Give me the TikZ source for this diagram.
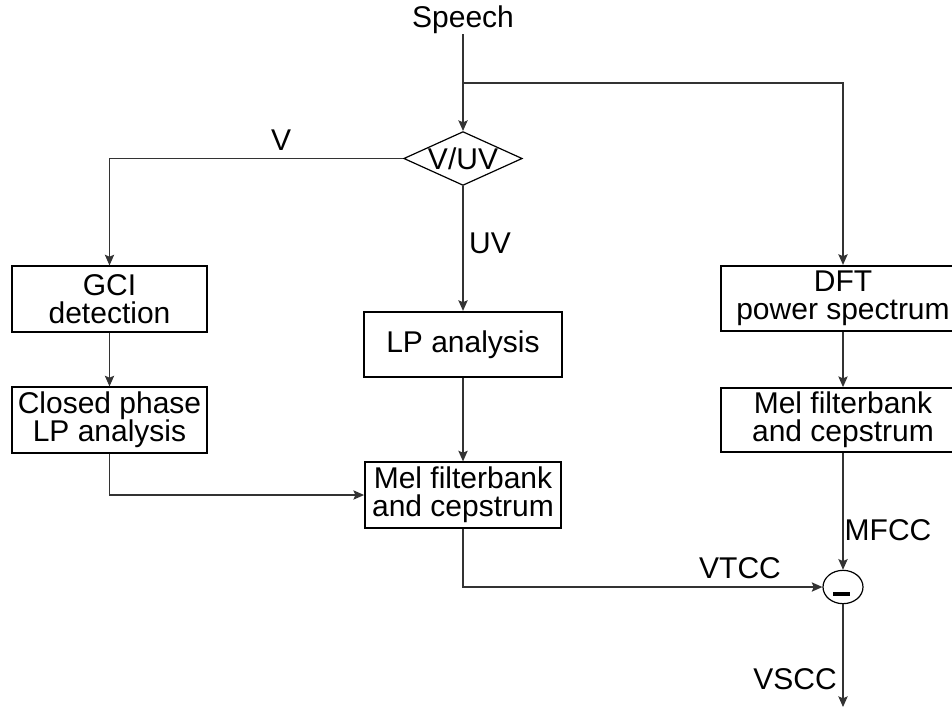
\documentclass[tikz,border=0pt]{standalone}
\usepackage{fontspec}
\setmainfont{Liberation Sans}
\usetikzlibrary{arrows.meta, shapes.geometric, positioning, calc}

\tikzset{
	blk/.style={draw, line width=1.4pt, align=center, inner sep=0pt, minimum width=146pt, minimum height=49pt},
	wideblk/.style={blk, minimum width=183pt},
	flow/.style={-{Stealth[length=8pt,width=7pt,inset=1.5pt]}, line width=0.9pt, draw=black!80},
	wire/.style={line width=0.9pt, draw=black!80},
	lbl/.style={inner sep=0pt}
}

\begin{document}
\begin{tikzpicture}[x=0.75pt,y=-0.75pt,font=\fontsize{22.5}{21}\selectfont]
	\useasboundingbox (0,0) rectangle (952,707);

	% input and voicing decision
	\node[lbl] (speech) at (463,20) {Speech};
	\coordinate (split) at (463,83);
	\node[draw, diamond, aspect=2.2, inner sep=0pt, line width=0.9pt,
		minimum width=88pt, minimum height=40pt] (vuv) at (463,158.5) {V/UV};

	% voiced branch
	\node[blk] (gci) at (109.5,299) {GCI\\detection};
	\node[blk] (clp) at (109.5,420) {Closed phase\\LP analysis};

	% unvoiced branch
	\node[blk, minimum width=148pt] (lpa) at (463,344.5) {LP analysis};
	\node[blk, minimum width=147pt] (melc) at (463,495) {Mel filterbank\\and cepstrum};

	% mfcc branch
	\node[wideblk] (dft) at (843,298.5) {DFT\\power spectrum};
	\node[wideblk, minimum height=48pt] (melr) at (843,420) {Mel filterbank\\and cepstrum};

	% difference
	\node[draw, ellipse, inner sep=0pt, line width=0.9pt, minimum width=30pt, minimum height=25pt] (diff) at (843,587) {};
	\fill (832.5,592) rectangle (849.5,596);
	\coordinate (out) at (843,707);

	% connectors
	\draw[wire] (speech.south) -- (split);
	\draw[flow] (split) -- (vuv.north);
	\draw[flow] (split) -| (dft.north);
	\draw[flow] (vuv.west) -| (gci.north);
	\draw[flow] (vuv.south) -- (lpa.north);
	\draw[flow] (gci) -- (clp);
	\draw[flow] (clp.south) |- (melc.west);
	\draw[flow] (lpa) -- (melc);
	\draw[flow] (melc.south) |- (diff.west);
	\draw[flow] (dft) -- (melr);
	\draw[flow] (melr.south) -- (diff.north);
	\draw[flow] (diff.south) -- (out);

	% labels
	\node[lbl] at (281,140) {V};
	\node[lbl] at (490,243) {UV};
	\node[lbl] at (740,568) {VTCC};
	\node[lbl] at (888,530) {MFCC};
	\node[lbl] at (795,679) {VSCC};
\end{tikzpicture}
\end{document}
